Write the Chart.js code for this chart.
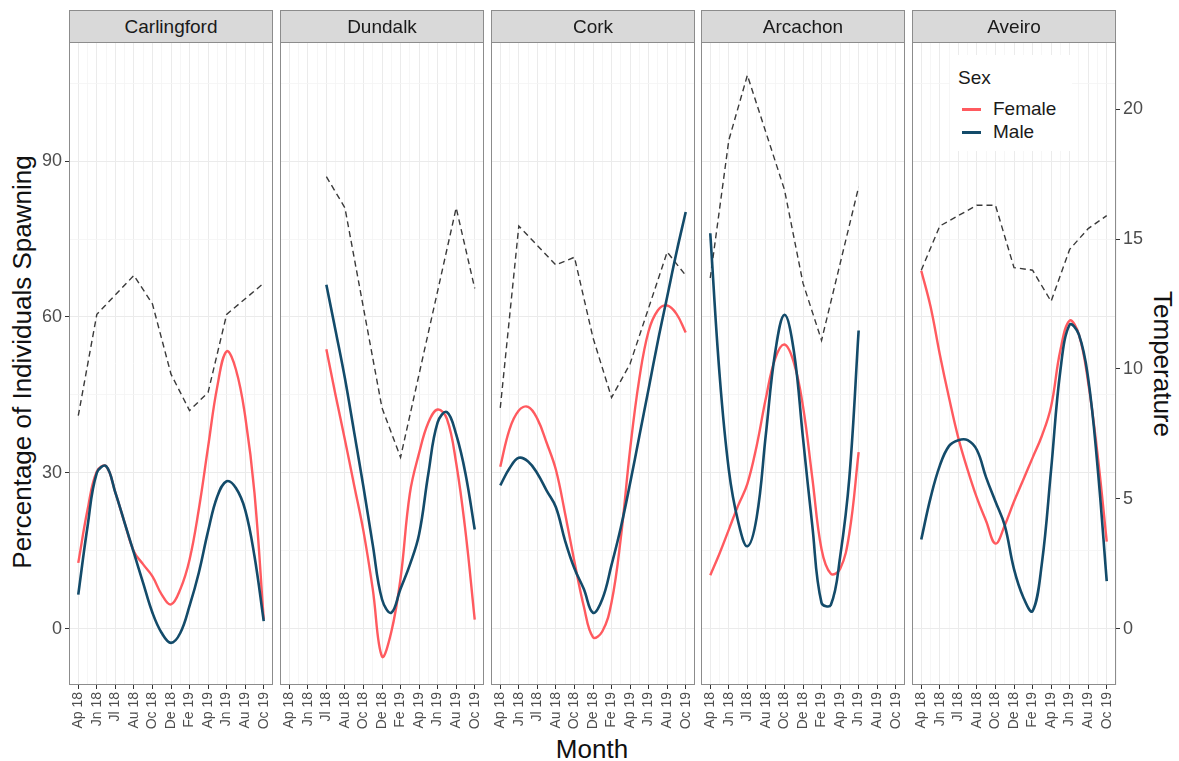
<!DOCTYPE html>
<html>
<head>
<meta charset="utf-8">
<script src="https://cdn.jsdelivr.net/npm/chart.js@4.4.0/dist/chart.umd.min.js"></script>
<style>
  html, body { margin: 0; padding: 0; background: #fff; }
  body { width: 1179px; height: 761px; overflow: hidden; position: relative;
         font-family: "Liberation Sans", Arial, sans-serif; }
  canvas { position: absolute; }
  .strip { position: absolute; top: 10px; height: 33px; box-sizing: border-box;
           background: #d9d9d9; border: 1px solid #8c8c8c; color: #1a1a1a;
           font-size: 19px; line-height: 31px; text-align: center; z-index: 2; }
  .title { position: absolute; color: #111; font-size: 26px; line-height: 30px; white-space: nowrap; }
  #legend { position: absolute; left: 950px; top: 55px; width: 122px; height: 96px;
            background: #fff; z-index: 3; color: #1a1a1a; }
  #legend .head { position: absolute; left: 8px; top: 12px; font-size: 19px; line-height: 22px; }
  #legend .row { position: absolute; left: 12px; height: 22px; font-size: 19px; line-height: 22px; }
  #legend .key { position: absolute; left: 0; top: 10px; width: 19px; height: 3px; }
  #legend .lab { position: absolute; left: 31px; top: 0; }
</style>
</head>
<body>
<div class="title" style="left:22px; top:362px; transform: translate(-50%,-50%) rotate(-90deg);">Percentage of Individuals Spawning</div>
<div class="title" style="left:592px; top:749px; transform: translate(-50%,-50%);">Month</div>
<div class="title" style="left:1163px; top:364px; transform: translate(-50%,-50%) rotate(90deg);">Temperature</div>
<div id="legend">
  <div class="head">Sex</div>
  <div class="row" style="top:43px"><div class="key" style="background:#ff5a5f"></div><div class="lab">Female</div></div>
  <div class="row" style="top:66px"><div class="key" style="background:#134b6a"></div><div class="lab">Male</div></div>
</div>
<script>
// Month tick labels (one per major tick) and the sampling positions of the curves
const MONTH_TICKS = ['Ap 18', 'Jn 18', 'Jl 18', 'Au 18', 'Oc 18', 'De 18', 'Fe 19', 'Ap 19', 'Jn 19', 'Au 19', 'Oc 19'];
const SAMPLE_X = [0, 0.5, 1, 1.5, 2, 2.5, 3, 3.5, 4, 4.5, 5, 5.5, 6, 6.5, 7, 7.5, 8, 8.5, 9, 9.5, 10];
const TEMP_X = [0, 1, 2, 3, 4, 5, 6, 7, 8, 9, 10];
const SITES = ['Carlingford', 'Dundalk', 'Cork', 'Arcachon', 'Aveiro'];

// Percentage of individuals spawning (smoothed), by site and sex
const femaleCarlingford = [12.7, 22.9, 30.3, 31.3, 26.2, 20.4, 14.9, 12.4, 10.1, 6.6, 4.7, 7.6, 13.3, 23.0, 35.0, 46.7, 53.4, 49.9, 40.9, 26.2, 1.8];
const maleCarlingford   = [6.6, 19.7, 30.0, 31.3, 26.2, 20.4, 14.6, 8.8, 3.1, -0.8, -2.7, -0.8, 4.4, 10.8, 18.8, 25.5, 28.4, 27.1, 22.9, 14.0, 1.5];
const femaleDundalk     = [null, null, null, null, 53.8, 44.9, 36.4, 27.6, 18.8, 7.7, -5.3, -0.6, 9.7, 26.0, 33.8, 39.7, 42.2, 40.4, 31.9, 18.8, 1.8];
const maleDundalk       = [null, null, null, null, 66.2, 57.3, 48.2, 37.8, 27.3, 16.2, 5.7, 3.1, 7.7, 12.3, 18.2, 29.9, 39.7, 41.7, 37.4, 29.9, 19.1];
const femaleCork        = [31.2, 38.4, 42.0, 42.7, 40.4, 35.8, 30.6, 22.1, 12.9, 4.4, -1.6, -0.5, 5.1, 17.5, 34.5, 48.2, 57.3, 61.3, 62.2, 60.6, 57.0];
const maleCork          = [27.6, 30.9, 32.9, 32.2, 29.9, 26.6, 23.4, 16.9, 11.6, 7.7, 3.1, 5.7, 12.3, 19.5, 28.0, 37.1, 46.2, 55.4, 63.9, 72.4, 80.2];
const femaleArcachon    = [10.3, 14.5, 19.1, 23.7, 27.9, 35.2, 44.4, 52.0, 54.7, 51.3, 42.8, 29.1, 15.3, 10.6, 11.5, 18.4, 34.0, null, null, null, null];
const maleArcachon      = [76.1, 49.0, 30.6, 20.7, 15.9, 21.4, 37.5, 53.2, 60.4, 53.6, 36.7, 19.9, 5.0, 4.6, 13.8, 29.1, 57.4, null, null, null, null];
const femaleAveiro      = [68.9, 62.0, 52.8, 44.4, 36.7, 30.6, 25.2, 20.7, 16.4, 19.9, 24.5, 28.7, 32.9, 37.1, 42.8, 53.6, 59.3, 56.6, 47.4, 33.7, 16.8];
const maleAveiro        = [17.2, 25.2, 31.4, 35.2, 36.3, 36.3, 34.4, 29.1, 24.5, 19.9, 11.5, 6.1, 3.4, 12.5, 30.6, 49.7, 58.5, 56.6, 48.2, 31.4, 9.2];

// Water temperature (secondary axis); null where no reading
const tempCarlingford = [8.2, 12.1, null, 13.6, 12.5, 9.8, 8.4, 9.1, 12.1, null, 13.3];
const tempDundalk     = [null, null, 17.4, 16.2, null, 8.5, 6.6, null, null, 16.2, 13.1];
const tempCork        = [8.5, 15.5, null, 14.0, 14.3, 11.2, 8.9, 10.2, null, 14.5, 13.6];
const tempArcachon    = [13.5, 18.8, 21.3, 19.1, 16.9, 13.3, 11.1, null, 17.0, null, null];
const tempAveiro      = [13.8, 15.5, 15.9, 16.3, 16.3, 13.9, 13.8, 12.6, 14.6, 15.4, 15.9];

// Axis tick values
const PCT_TICKS = [0, 15, 30, 45, 60, 75, 90, 105];   // labelled every 30, minor grid between
const TEMP_TICKS = [0, 5, 10, 15, 20];

const FEMALE_COLOR = '#ff5a5f';
const MALE_COLOR = '#134b6a';

// Layout of the facet panels
const PANEL_LEFT = [69, 280, 491, 701, 912];
const PANEL_W = 204, PLOT_TOP = 42, PLOT_H = 643, XAXIS_H = 62, SIDE_AXIS_W = 45;
const PCT_MIN = -10.8, PCT_MAX = 112.9, TEMP_RATIO = 5;

Chart.defaults.font.family = '"Liberation Sans", Arial, sans-serif';

const series = [
  { female: femaleCarlingford, male: maleCarlingford, temp: tempCarlingford },
  { female: femaleDundalk,     male: maleDundalk,     temp: tempDundalk },
  { female: femaleCork,        male: maleCork,        temp: tempCork },
  { female: femaleArcachon,    male: maleArcachon,    temp: tempArcachon },
  { female: femaleAveiro,      male: maleAveiro,      temp: tempAveiro }
];

const toPoints = (xs, ys) => xs.map((x, k) => (ys[k] == null ? null : { x, y: ys[k] })).filter(Boolean);
const isMajor = v => Math.abs(v - Math.round(v)) < 1e-9;
const clear = 'rgba(0,0,0,0)';

// Panel frame drawn over the plotting area
const panelFrame = {
  id: 'panelFrame',
  afterDraw(chart) {
    const a = chart.chartArea, ctx = chart.ctx;
    ctx.save();
    ctx.strokeStyle = '#8c8c8c';
    ctx.lineWidth = 1;
    ctx.strokeRect(a.left + 0.5, a.top + 0.5, a.right - a.left - 1, a.bottom - a.top - 1);
    ctx.restore();
  }
};

SITES.forEach((site, i) => {
  const s = series[i];
  const leftW = i === 0 ? SIDE_AXIS_W : 0;
  const rightW = i === SITES.length - 1 ? SIDE_AXIS_W : 0;

  const canvas = document.createElement('canvas');
  canvas.width = PANEL_W + leftW + rightW;
  canvas.height = PLOT_H + XAXIS_H;
  canvas.style.width = canvas.width + 'px';
  canvas.style.height = canvas.height + 'px';
  canvas.style.left = (PANEL_LEFT[i] - leftW) + 'px';
  canvas.style.top = PLOT_TOP + 'px';
  document.body.appendChild(canvas);

  const strip = document.createElement('div');
  strip.className = 'strip';
  strip.style.left = PANEL_LEFT[i] + 'px';
  strip.style.width = PANEL_W + 'px';
  strip.textContent = site;
  document.body.appendChild(strip);

  new Chart(canvas, {
    type: 'line',
    data: {
      datasets: [
        { label: 'Male', data: toPoints(SAMPLE_X, s.male), yAxisID: 'y', order: 0,
          borderColor: MALE_COLOR, borderWidth: 2.6, pointRadius: 0, tension: 0.4, fill: false },
        { label: 'Female', data: toPoints(SAMPLE_X, s.female), yAxisID: 'y', order: 1,
          borderColor: FEMALE_COLOR, borderWidth: 2.4, pointRadius: 0, tension: 0.4, fill: false },
        { label: 'Temperature', data: toPoints(TEMP_X, s.temp), yAxisID: 'yT', order: 2,
          borderColor: '#3a3a3a', borderWidth: 1.4, borderDash: [6, 4], pointRadius: 0, tension: 0, fill: false }
      ]
    },
    options: {
      responsive: false,
      animation: false,
      devicePixelRatio: 1,
      layout: { padding: 0, autoPadding: false },
      plugins: { legend: { display: false }, tooltip: { enabled: false } },
      scales: {
        x: {
          type: 'linear', position: 'bottom', min: -0.5, max: 10.5,
          afterBuildTicks: sc => {
            sc.ticks = [];
            for (let k = -1; k <= 21; k++) sc.ticks.push({ value: k / 2 });
          },
          afterFit: sc => { sc.height = XAXIS_H; sc.paddingLeft = 0; sc.paddingRight = 0; },
          border: { display: false },
          grid: {
            color: c => (c.tick && isMajor(c.tick.value) ? '#ebebeb' : '#f4f4f4'),
            lineWidth: c => (c.tick && isMajor(c.tick.value) ? 1 : 0.8),
            tickColor: c => (c.tick && isMajor(c.tick.value) && c.tick.value >= 0 && c.tick.value <= 10 ? '#333333' : clear),
            tickLength: 4, drawTicks: true
          },
          ticks: {
            autoSkip: false, minRotation: 90, maxRotation: 90, padding: 3,
            color: '#4d4d4d', font: { size: 14 },
            callback: v => (isMajor(v) && v >= 0 && v <= 10 ? MONTH_TICKS[Math.round(v)] : '')
          }
        },
        y: {
          type: 'linear', position: 'left', min: PCT_MIN, max: PCT_MAX,
          afterBuildTicks: sc => { sc.ticks = PCT_TICKS.map(v => ({ value: v })); },
          afterFit: sc => { sc.width = leftW; sc.paddingTop = 0; sc.paddingBottom = 0; },
          border: { display: false },
          grid: {
            color: c => (c.tick && c.tick.value % 30 === 0 ? '#ebebeb' : '#f4f4f4'),
            lineWidth: c => (c.tick && c.tick.value % 30 === 0 ? 1 : 0.8),
            tickColor: c => (c.tick && c.tick.value % 30 === 0 ? '#333333' : clear),
            tickLength: 4, drawTicks: i === 0
          },
          ticks: {
            display: i === 0, padding: 3, color: '#4d4d4d', font: { size: 18 },
            callback: v => (v % 30 === 0 ? String(v) : '')
          }
        },
        yT: {
          type: 'linear', position: 'right', display: i === SITES.length - 1,
          min: PCT_MIN / TEMP_RATIO, max: PCT_MAX / TEMP_RATIO,
          afterBuildTicks: sc => { sc.ticks = TEMP_TICKS.map(v => ({ value: v })); },
          afterFit: sc => { sc.width = rightW; sc.paddingTop = 0; sc.paddingBottom = 0; },
          border: { display: false },
          grid: { drawOnChartArea: false, tickColor: '#333333', tickLength: 4, drawTicks: true },
          ticks: { padding: 3, color: '#4d4d4d', font: { size: 18 }, callback: v => String(v) }
        }
      }
    },
    plugins: [panelFrame]
  });
});
</script>
</body>
</html>
